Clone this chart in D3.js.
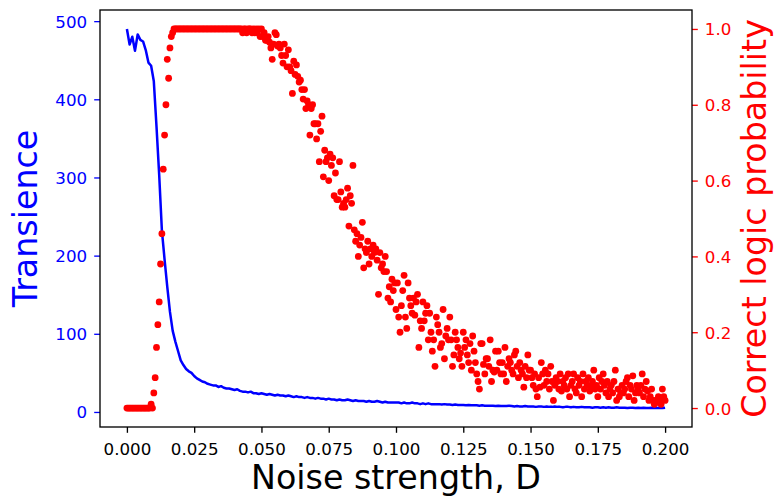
<!DOCTYPE html>
<html>
<head>
<meta charset="utf-8">
<script src="https://cdn.jsdelivr.net/npm/d3@7"></script>
<style>
  body { margin: 0; background: #fff; }
  text { font-family: "DejaVu Sans", sans-serif; }
</style>
</head>
<body>
<div id="chart"></div>
<script>
// Noise strength D runs 0 .. 0.2 on both series
const noiseStart = 0;
const transienceStep = 0.001;   // blue line sampled every 0.001
const probabilityStep = 0.0005; // red dots sampled every 0.0005

const xTicks = [0, 0.025, 0.05, 0.075, 0.1, 0.125, 0.15, 0.175, 0.2];
const leftTicks = [0, 100, 200, 300, 400, 500];
const rightTicks = [0, 0.2, 0.4, 0.6, 0.8, 1.0];

const transience = [
  490, 470, 480, 462, 483, 476, 474, 463, 447, 443,
  423, 365, 303, 232, 195, 160, 128, 104, 90, 78,
  66, 60, 55, 52, 50, 46, 43, 41, 39, 38,
  36, 35, 34, 34, 32, 33, 31, 30, 30, 29,
  28, 29, 27, 26, 26, 25, 26, 24, 24, 23,
  24, 23, 22, 23, 22, 21, 22, 21, 21, 20,
  21, 20, 19, 20, 19, 19, 18, 19, 18, 18,
  17, 18, 17, 17, 16, 17, 16, 16, 15, 16,
  15, 15, 16, 15, 14, 15, 14, 14, 14, 13,
  14, 13, 13, 14, 13, 12, 13, 12, 12, 12,
  12, 12, 11, 12, 11, 11, 12, 11, 11, 10,
  11, 10, 11, 10, 10, 10, 10, 9.5, 10, 9.5,
  9.5, 9, 9.5, 9, 9, 9, 8.5, 9, 8.5, 8.5,
  8.5, 8, 8.5, 8, 8, 8, 8, 7.5, 8, 7.5,
  7.5, 7.5, 8, 7.5, 7, 7.5, 7, 7, 7.5, 7,
  7, 7, 6.5, 7, 7, 6.5, 7, 6.5, 6.5, 7,
  6.5, 6.5, 6, 6.5, 6.5, 6, 6.5, 6, 6, 6.5,
  6, 6, 6, 5.5, 6, 6, 5.5, 6, 5.5, 6,
  5.5, 5.5, 6, 5.5, 5.5, 5.5, 5, 5.5, 5.5, 5,
  5.5, 5, 5.5, 5, 5, 5.5, 5, 5, 5.5, 5,
  5.5
];

const correctProbability = [
  0, 0, 0, 0, 0, 0, 0, 0, 0, 0, 0, 0, 0, 0, 0, 0, 0, 0, 0.01, 0,
  0.04, 0.08, 0.16, 0.22, 0.28, 0.38, 0.46, 0.63, 0.72, 0.80, 0.92, 0.87, 0.95, 0.98, 0.99, 1, 1, 1, 1, 1,
  1, 1, 1, 1, 1, 1, 1, 1, 1, 1, 1, 1, 1, 1, 1, 1, 1, 1, 1, 1,
  1, 1, 1, 1, 1, 1, 1, 1, 1, 1, 1, 1, 1, 1, 1, 1, 1, 1, 1, 1,
  1, 1, 1, 1, 1, 1, 0.99, 1, 1, 0.99, 1, 1, 1, 0.99, 1, 0.99, 1, 0.99, 1, 0.98,
  1, 0.98, 0.99, 0.97, 0.97, 0.98, 0.965, 0.95, 0.92, 0.96, 0.99, 0.985, 0.955, 0.96, 0.95, 0.93, 0.91, 0.96, 0.93, 0.90,
  0.945, 0.90, 0.89, 0.83, 0.915, 0.88, 0.905, 0.875, 0.86, 0.865, 0.84, 0.815, 0.84, 0.79, 0.81, 0.80, 0.72, 0.79, 0.80, 0.75,
  0.75, 0.71, 0.75, 0.65, 0.73, 0.77, 0.61, 0.68, 0.65, 0.66, 0.60, 0.67, 0.64, 0.66, 0.56, 0.62, 0.55, 0.55, 0.65, 0.57,
  0.53, 0.54, 0.53, 0.55, 0.58, 0.48, 0.56, 0.54, 0.64, 0.47, 0.44, 0.46, 0.40, 0.43, 0.45, 0.49, 0.37, 0.42, 0.41, 0.44,
  0.38, 0.42, 0.40, 0.43, 0.41, 0.42, 0.39, 0.30, 0.41, 0.37, 0.38, 0.36, 0.40, 0.36, 0.29, 0.32, 0.28, 0.34, 0.31, 0.33,
  0.26, 0.33, 0.24, 0.20, 0.27, 0.31, 0.35, 0.24, 0.21, 0.33, 0.29, 0.27, 0.25, 0.29, 0.245, 0.28, 0.30, 0.16, 0.23, 0.21,
  0.28, 0.23, 0.25, 0.27, 0.18, 0.25, 0.20, 0.15, 0.18, 0.11, 0.24, 0.22, 0.20, 0.16, 0.17, 0.26, 0.13, 0.19, 0.21, 0.18,
  0.24, 0.18, 0.11, 0.14, 0.20, 0.18, 0.16, 0.13, 0.145, 0.11, 0.20, 0.16, 0.18, 0.14, 0.12, 0.17, 0.10, 0.19, 0.15, 0.12,
  0.09, 0.07, 0.05, 0.17, 0.17, 0.115, 0.09, 0.13, 0.13, 0.11, 0.18, 0.07, 0.10, 0.095, 0.15, 0.10, 0.15, 0.12, 0.09, 0.12,
  0.09, 0.16, 0.07, 0.11, 0.13, 0.12, 0.10, 0.09, 0.14, 0.15, 0.11, 0.08, 0.12, 0.10, 0.09, 0.055, 0.11, 0.08, 0.14, 0.10,
  0.10, 0.08, 0.06, 0.09, 0.05, 0.03, 0.08, 0.055, 0.12, 0.09, 0.06, 0.10, 0.07, 0.09, 0.05, 0.11, 0.07, 0.02, 0.06, 0.08,
  0.07, 0.05, 0.09, 0.045, 0.07, 0.06, 0.08, 0.05, 0.09, 0.03, 0.06, 0.07, 0.09, 0.05, 0.04, 0.08, 0.06, 0.07, 0.03, 0.09,
  0.05, 0.07, 0.06, 0.08, 0.045, 0.06, 0.07, 0.10, 0.05, 0.06, 0.03, 0.08, 0.05, 0.07, 0.09, 0.06, 0.04, 0.07, 0.03, 0.05,
  0.06, 0.04, 0.07, 0.10, 0.02, 0.05, 0.03, 0.04, 0.06, 0.04, 0.05, 0.07, 0.08, 0.03, 0.06, 0.05, 0.085, 0.02, 0.04, 0.06,
  0.05, 0.04, 0.06, 0.09, 0.03, 0.05, 0.07, 0.045, 0.02, 0.03, 0.05, 0.02, 0.01, 0.02, 0.015, 0.03, 0.02, 0.01, 0.05, 0.03,
  0.02
];

const width = 780;
const height = 502;
const plot = { left: 100, right: 692, top: 10, bottom: 427 };
const blue = "#0000ff";
const red = "#ff0000";

// matplotlib style 5% margins around the data
function padded(lo, hi) {
  const m = (hi - lo) * 0.05;
  return [lo - m, hi + m];
}

const xLast = noiseStart + transienceStep * (transience.length - 1);
const x = d3.scaleLinear()
    .domain(padded(noiseStart, xLast))
    .range([plot.left, plot.right]);

const tExtent = d3.extent(transience);
const yLeft = d3.scaleLinear()
    .domain(padded(tExtent[0], tExtent[1]))
    .range([plot.bottom, plot.top]);

const pExtent = d3.extent(correctProbability);
const yRight = d3.scaleLinear()
    .domain(padded(pExtent[0], pExtent[1]))
    .range([plot.bottom, plot.top]);

const svg = d3.select("#chart")
    .append("svg")
        .attr("width", width)
        .attr("height", height)
        .attr("viewBox", [0, 0, width, height]);

// Blue transience line
const line = d3.line()
    .x((d, i) => x(noiseStart + i * transienceStep))
    .y(d => yLeft(d));

svg.append("path")
    .datum(transience)
        .attr("fill", "none")
        .attr("stroke", blue)
        .attr("stroke-width", 2.5)
        .attr("stroke-linejoin", "round")
        .attr("d", line);

// Red probability dots (twin axis, drawn on top)
svg.append("g")
    .selectAll("circle")
    .data(correctProbability)
    .join("circle")
        .attr("cx", (d, i) => x(noiseStart + i * probabilityStep))
        .attr("cy", d => yRight(d))
        .attr("r", 3.4)
        .attr("fill", red);

// Axes
const tickLen = 5.8;

const xAxis = svg.append("g")
    .attr("transform", `translate(0,${plot.bottom})`)
    .call(d3.axisBottom(x).tickValues(xTicks).tickFormat(d3.format(".3f"))
        .tickSize(tickLen).tickPadding(10));

const leftAxis = svg.append("g")
    .attr("transform", `translate(${plot.left},0)`)
    .call(d3.axisLeft(yLeft).tickValues(leftTicks).tickFormat(d3.format("d"))
        .tickSize(tickLen).tickPadding(7));

const rightAxis = svg.append("g")
    .attr("transform", `translate(${plot.right},0)`)
    .call(d3.axisRight(yRight).tickValues(rightTicks).tickFormat(d3.format(".1f"))
        .tickSize(tickLen).tickPadding(7));

[xAxis, leftAxis, rightAxis].forEach(g => {
  g.select(".domain").remove();
  g.selectAll("text")
      .attr("font-family", "DejaVu Sans")
      .attr("font-size", 16.7);
  g.selectAll("line").attr("stroke-width", 1.33);
});

xAxis.selectAll("line").attr("stroke", "#000");
xAxis.selectAll("text").attr("fill", "#000");
leftAxis.selectAll("line").attr("stroke", blue);
leftAxis.selectAll("text").attr("fill", blue).attr("dy", "0.36em");
rightAxis.selectAll("line").attr("stroke", red);
rightAxis.selectAll("text").attr("fill", red).attr("dy", "0.36em");

// Frame
svg.append("rect")
    .attr("x", plot.left)
    .attr("y", plot.top)
    .attr("width", plot.right - plot.left)
    .attr("height", plot.bottom - plot.top)
    .attr("fill", "none")
    .attr("stroke", "#000")
    .attr("stroke-width", 1.33);

// Axis titles
const midY = (plot.top + plot.bottom) / 2;

svg.append("text")
    .attr("x", (plot.left + plot.right) / 2)
    .attr("y", 489)
    .attr("text-anchor", "middle")
    .attr("font-size", 33.3)
    .attr("fill", "#000")
    .text("Noise strength, D");

svg.append("text")
    .attr("transform", `translate(37,${midY}) rotate(-90)`)
    .attr("text-anchor", "middle")
    .attr("font-size", 33.3)
    .attr("fill", blue)
    .text("Transience");

svg.append("text")
    .attr("transform", `translate(766,${midY}) rotate(-90)`)
    .attr("text-anchor", "middle")
    .attr("font-size", 33.3)
    .attr("fill", red)
    .text("Correct logic probability");
</script>
</body>
</html>
